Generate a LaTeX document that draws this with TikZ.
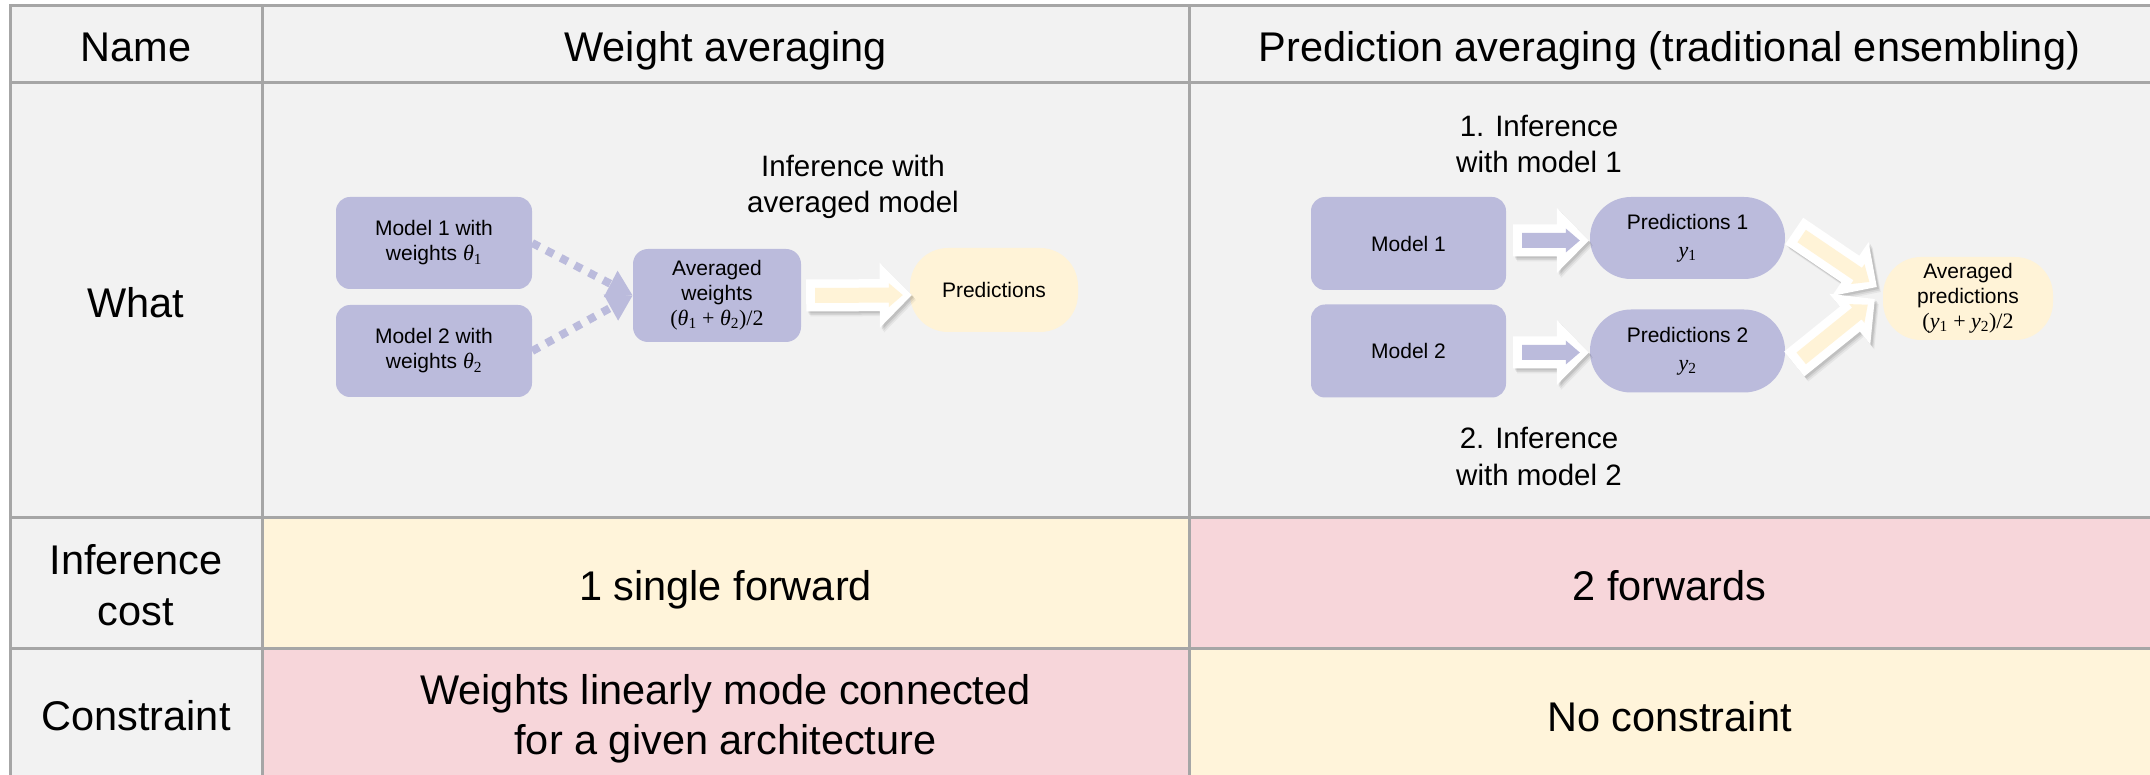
\documentclass[tikz,border=0pt]{standalone}
\usepackage[no-math]{fontspec}
\setmainfont{Liberation Sans}
\newfontfamily\mtxt{Liberation Serif}
\usetikzlibrary{calc,arrows.meta}

\definecolor{bgc}{HTML}{F2F2F2}
\definecolor{gridc}{HTML}{A6A6A6}
\definecolor{yelc}{HTML}{FFF4DA}
\definecolor{pinkc}{HTML}{F7D6DA}
\definecolor{purc}{HTML}{BBBBDC}
\definecolor{ynode}{HTML}{FFF3D7}

\newcommand\bigfont{\fontsize{41.5}{50.5}\selectfont}
\newcommand\midfont{\fontsize{29.5}{36.5}\selectfont}
\newcommand\smfont{\fontsize{21}{25}\selectfont}
% serif "math" set as text
\newcommand\mvar[2]{{\mtxt\itshape #1}\textsubscript{\mtxt #2}}
\newcommand\mexpr[1]{{\mtxt\fontsize{22}{25}\selectfont #1}}

% block arrow with white body, soft shadow and coloured core
\newcommand\blockarrow[3]{%
  \pgfmathanglebetweenpoints{\pgfpointanchor{#1}{center}}{\pgfpointanchor{#2}{center}}%
  \edef\baAng{\pgfmathresult}%
  \pgfpointdiff{\pgfpointanchor{#1}{center}}{\pgfpointanchor{#2}{center}}%
  \pgfgetlastxy{\baDx}{\baDy}%
  \pgfmathsetmacro\baL{veclen(\baDx,\baDy)}%
  \pgfmathsetmacro\baB{\baL-32}%
  \pgfmathsetmacro\baIT{\baL-9}%
  \pgfmathsetmacro\baIB{\baL-23}%
  \foreach \sx/\sy/\op in {4/-5/0.05, 3/-3.5/0.07, 2/-2/0.09} {%
    \fill[black, opacity=\op, shift={(#1)}, xshift=\sx pt, yshift=\sy pt, rotate=\baAng, x=1pt, y=1pt]
      (0,-16) -- (\baB,-16) -- (\baB,-32.5) -- (\baL,0) -- (\baB,32.5) -- (\baB,16) -- (0,16) -- cycle;}%
  \fill[white, shift={(#1)}, rotate=\baAng, x=1pt, y=1pt]
      (0,-16) -- (\baB,-16) -- (\baB,-32.5) -- (\baL,0) -- (\baB,32.5) -- (\baB,16) -- (0,16) -- cycle;
  \fill[#3, shift={(#1)}, rotate=\baAng, x=1pt, y=1pt]
      (9,-7.5) -- (\baIB,-7.5) -- (\baIB,-12) -- (\baIT,0) -- (\baIB,12) -- (\baIB,7.5) -- (9,7.5) -- cycle;
}

\begin{document}
\begin{tikzpicture}[x=1pt,y=-1pt,
  purbox/.style={fill=purc, rounded corners=14pt, align=center, font=\smfont, inner sep=0pt},
  ynodebox/.style={fill=ynode, align=center, font=\smfont, inner sep=0pt},
  big/.style={font=\bigfont, anchor=base, inner sep=0pt},
  bigc/.style={font=\bigfont, align=center, inner sep=0pt},
  midlbl/.style={font=\midfont, align=center, inner sep=0pt},
  dotconn/.style={draw=purc, line width=8pt, dash pattern=on 8pt off 8pt, -{Triangle[length=25pt,width=28pt]}},
  gridline/.style={draw=gridc, line width=3pt, line cap=rect}
]
\useasboundingbox (0,0) rectangle (2150,775);
\fill[white] (0,0) rectangle (2150,775);
\fill[bgc] (10,6) rectangle (2150,775);
\fill[yelc] (262,517) rectangle (1189,648);
\fill[pinkc] (1189,517) rectangle (2150,648);
\fill[pinkc] (262,648) rectangle (1189,775);
\fill[yelc] (1189,648) rectangle (2150,775);

\foreach \yy in {6,83,517,648} {\draw[gridline] (10,\yy) -- (2152,\yy);}
\foreach \xx in {10,262,1189} {\draw[gridline] (\xx,6) -- (\xx,777);}

% header and row labels
\node[big] (hname) at (136,62) {Name};
\node[big] (hwa) at (725.5,62) {Weight averaging};
\node[big] (hpa) at (1669.5,62) {Prediction averaging (traditional ensembling)};
\node[big] (rwhat) at (136,318) {What};
\node[bigc] (rinf) at (136,585) {Inference\\cost};
\node[big] (rcon) at (136,730) {Constraint};
\node[big] (c1) at (725.5,600) {1 single forward};
\node[big] (c2) at (1669.5,600) {2 forwards};
\node[bigc] (c3) at (725.5,719) {Weights linearly mode connected\\for a given architecture};
\node[big] (c4) at (1669.5,731) {No constraint};

% weight averaging diagram
\node[purbox, minimum width=196pt, minimum height=92pt] (m1w) at (434,243) {Model 1 with\\weights \mexpr{\mvar{θ}{1}}};
\node[purbox, minimum width=196pt, minimum height=92pt] (m2w) at (434,351) {Model 2 with\\weights \mexpr{\mvar{θ}{2}}};
\node[purbox, minimum width=168pt, minimum height=93pt, rounded corners=15pt] (avgw) at (717,295.5) {Averaged\\weights\\\mexpr{(\mvar{θ}{1} + \mvar{θ}{2})/2}};
\node[ynodebox, minimum width=168pt, minimum height=84pt, rounded corners=38pt] (predw) at (994,290) {Predictions};
\draw[dotconn] (m1w.east) -- (avgw.west);
\draw[dotconn] (m2w.east) -- (avgw.west);
\coordinate (wa1) at ($(avgw.east)+(5,0)$);
\coordinate (wa2) at ($(predw.west)+(2,5)$);
\blockarrow{wa1}{wa2}{ynode}
\node[midlbl] (lblw) at (853,187) {Inference with\\averaged model};

% prediction averaging diagram
\node[purbox, minimum width=195pt, minimum height=93pt] (m1p) at (1408.5,243.5) {Model 1};
\node[purbox, minimum width=195pt, minimum height=93pt] (m2p) at (1408.5,351) {Model 2};
\node[purbox, minimum width=195pt, minimum height=82pt, rounded corners=41pt, font=\fontsize{21}{28}\selectfont] (p1) at (1687.5,238) {Predictions 1\\\mexpr{\mvar{y}{1}}};
\node[purbox, minimum width=195pt, minimum height=83pt, rounded corners=41pt, font=\fontsize{21}{28}\selectfont] (p2) at (1687.5,351) {Predictions 2\\\mexpr{\mvar{y}{2}}};
\node[ynodebox, minimum width=170pt, minimum height=83pt, rounded corners=38pt] (avgp) at (1968,298.5) {Averaged\\predictions\\\mexpr{(\mvar{y}{1} + \mvar{y}{2})/2}};

\coordinate (ra1s) at ($(m1p.east)+(7,-3)$);
\coordinate (ra1e) at ($(p1.west)+(-1,2.5)$);
\coordinate (ra2s) at ($(m2p.east)+(7,1.5)$);
\coordinate (ra2e) at ($(p2.west)+(-1,1.5)$);
\coordinate (da1s) at ($(p1.east)+(9,-7)$);
\coordinate (da1e) at ($(avgp.west)+(-6,-11.5)$);
\coordinate (da2s) at ($(p2.east)+(9,13)$);
\coordinate (da2e) at ($(avgp.west)+(-8,0.5)$);
\blockarrow{ra1s}{ra1e}{purc}
\blockarrow{ra2s}{ra2e}{purc}
\blockarrow{da1s}{da1e}{ynode}
\blockarrow{da2s}{da2e}{ynode}

\node[midlbl] (lbl1) at (1539,144) {1. Inference\\with model 1};
\node[midlbl] (lbl2) at (1539,456.5) {2. Inference\\with model 2};
\end{tikzpicture}
\end{document}
